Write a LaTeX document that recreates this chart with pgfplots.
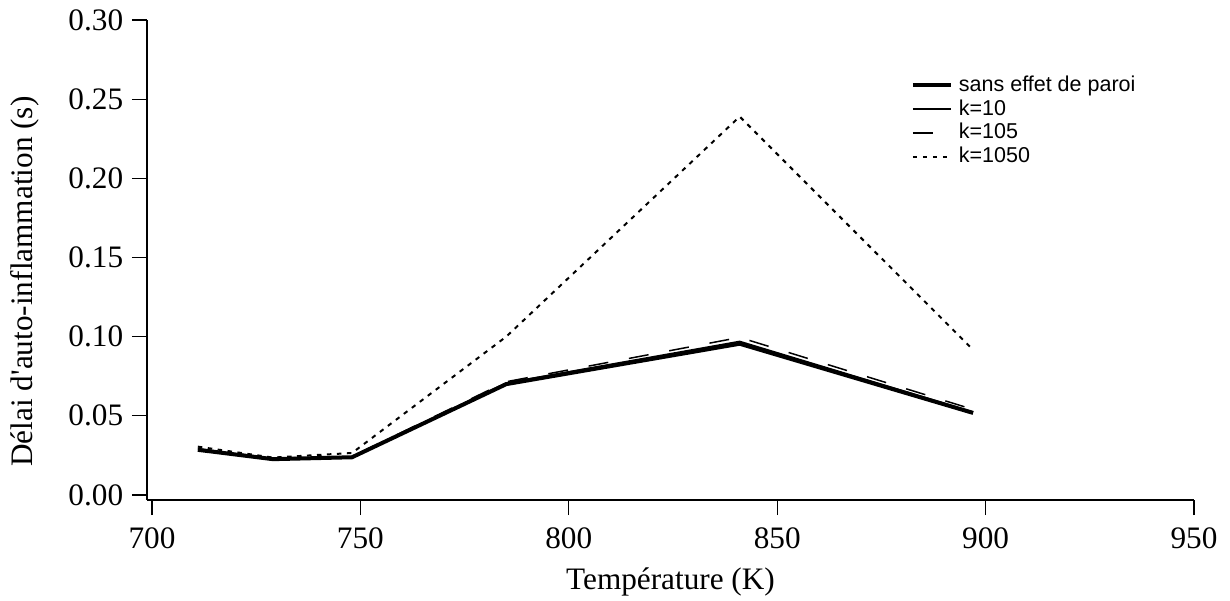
\documentclass[border=0pt]{standalone}
\usepackage{fontspec}
\setmainfont{Liberation Serif}
\newfontfamily\legendfont{Liberation Sans}
\usepackage{pgfplots}
\pgfplotsset{compat=1.18}

% delai d'auto-inflammation vs temperature
\pgfplotstableread{
T     tau
711   0.0285
729   0.0226
748   0.0238
785   0.0700
841   0.0955
897   0.0518
}\sansparoi
\pgfplotstableread{
T     tau
711   0.0290
729   0.0230
748   0.0241
785   0.0708
841   0.0970
897   0.0524
}\kdix
\pgfplotstableread{
T     tau
711   0.0292
729   0.0232
748   0.0243
785   0.0715
841   0.0995
897   0.0540
}\kcent
\pgfplotstableread{
T     tau
711   0.0305
729   0.0236
748   0.0265
785   0.1000
841   0.2390
897   0.0916
}\kmille

\begin{document}
\begin{tikzpicture}
\begin{axis}[
  scale only axis, width=418.8pt, height=192pt,
  xmin=698.8, xmax=950, ymin=-0.0032, ymax=0.30,
  axis x line=bottom, axis y line=left,
  axis line style={line width=0.5pt, -},
  xtick={700,750,800,850,900,950},
  ytick={0,0.05,0.10,0.15,0.20,0.25,0.30},
  tick align=outside, major tick length=6pt,
  tick style={line width=0.5pt, black},
  /pgf/number format/assume math mode=true,
  yticklabel style={/pgf/number format/fixed, /pgf/number format/fixed zerofill,
    /pgf/number format/precision=2},
  xticklabel style={yshift=-1.6pt},
  ticklabel style={font=\fontsize{12.5}{15}\selectfont},
  label style={font=\fontsize{12.5}{15}\selectfont},
  xlabel={Température (K)},
  ylabel={Délai d\textquotesingle auto-inflammation (s)},
  xlabel style={at={(axis description cs:0.5,0)}, anchor=center, yshift=-32.8pt},
  ylabel style={at={(axis description cs:-0.1165,0.455)}, anchor=center},
  legend cell align=left,
  legend image code/.code={\draw[#1] (0pt,0pt) -- (15.2pt,0pt);},
  legend style={draw=none, fill=none, at={(rel axis cs:0.722,0.90)}, anchor=north west,
    font=\legendfont\fontsize{8.6}{9.6}\selectfont, row sep=0pt,
    nodes={inner ysep=0.9pt, inner xsep=2.4pt}},
]
\coordinate (bl) at (rel axis cs:0,0);
\coordinate (tr) at (rel axis cs:1,1);
\addplot[black, line width=1.6pt] table[x=T, y=tau] {\sansparoi};
\addlegendentry{sans effet de paroi}
\addplot[black, line width=0.6pt] table[x=T, y=tau] {\kdix};
\addlegendentry{k=10}
\addplot[black, line width=0.6pt, dash pattern=on 8pt off 8.4pt] table[x=T, y=tau] {\kcent};
\addlegendentry{k=105}
\addplot[black, line width=0.8pt, dash pattern=on 1.8pt off 2.2pt] table[x=T, y=tau] {\kmille};
\addlegendentry{k=1050}
\end{axis}
\pgfresetboundingbox
\path[use as bounding box] ([xshift=-58.8pt, yshift=-40.4pt]bl) rectangle ([xshift=14.4pt, yshift=8pt]tr);
\end{tikzpicture}
\end{document}
